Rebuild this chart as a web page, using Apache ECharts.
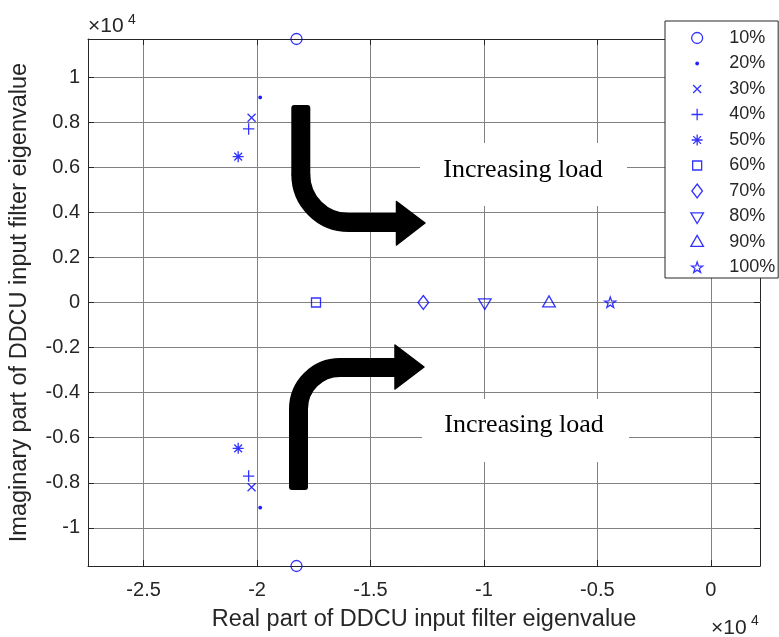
<!DOCTYPE html>
<html><head><meta charset="utf-8">
<script src="https://cdn.jsdelivr.net/npm/echarts@6/dist/echarts.min.js"></script>
<style>html,body{margin:0;padding:0;background:#fff}#c{width:779px;height:637px}</style>
</head><body><div id="c"></div>
<script>
// ---- data (eigenvalues, units of 1) ----
const loadLevels = ['10%','20%','30%','40%','50%','60%','70%','80%','90%','100%'];
const realParts  = [-18260, -19860, -20240, -20370, -20830, -17400, -12670, -9960, -7130, -4430];
const imagParts  = [11690, 9100, 8200, 7700, 6470, 0, 0, 0, 0, 0];
const xTicks = [-25000, -20000, -15000, -10000, -5000, 0];
const yTicks = [-10000, -8000, -6000, -4000, -2000, 0, 2000, 4000, 6000, 8000, 10000];
const xRange = [-27450, 2170];
const yRange = [-11690, 11690];

const FONT = "'Liberation Sans', Arial, Helvetica, sans-serif";
const SERIF = "'Liberation Serif', 'Times New Roman', serif";
const BLUE = '#0000ff';
const INK = '#262626';

// marker shapes in a 16x16 box (padding points keep the box square)
function starPath(cx, cy, R, r) {
  let d = '';
  for (let k = 0; k < 10; k++) {
    const a = -Math.PI / 2 + k * Math.PI / 5;
    const rr = k % 2 ? r : R;
    d += (k ? 'L' : 'M') + (cx + rr * Math.cos(a)).toFixed(2) + ',' + (cy + rr * Math.sin(a)).toFixed(2);
  }
  return d + 'Z';
}
const PAD = 'M0,0M16,16';
const SHAPES = [
  'M8,2.5A5.5,5.5,0,1,1,8,13.5A5.5,5.5,0,1,1,8,2.5Z',            // circle
  'M8,6.7A1.3,1.3,0,1,1,8,9.3A1.3,1.3,0,1,1,8,6.7Z',              // point
  'M4,4L12,12M12,4L4,12',                                          // x
  'M8,2.3L8,13.7M2.3,8L13.7,8',                                    // +
  'M8,2.5L8,13.5M2.5,8L13.5,8M4.1,4.1L11.9,11.9M11.9,4.1L4.1,11.9', // *
  'M3.5,3.5L12.5,3.5L12.5,12.5L3.5,12.5Z',                         // square
  'M8,1L13.3,8L8,15L2.7,8Z',                                       // diamond
  'M1.7,4.3L14.3,4.3L8,15Z',                                       // triangle down
  'M8,1.4L14.3,12.3L1.7,12.3Z',                                    // triangle up
  starPath(8, 8.3, 5.8, 2.3)                                       // pentagram
];

const fmt = v => String(Number((v / 10000).toFixed(2)));

function pointsOf(i) {
  const re = realParts[i], im = imagParts[i];
  return im > 0 ? [[re, im], [re, -im]] : [[re, 0]];
}

const series = loadLevels.map((name, i) => ({
  type: 'scatter', name,
  symbol: 'path://' + PAD + SHAPES[i], symbolSize: 16, clip: false,
  itemStyle: { color: i === 1 ? BLUE : 'rgba(0,0,0,0)', borderColor: BLUE, borderWidth: 1.3 },
  emphasis: { disabled: true },
  data: pointsOf(i), z: 5
}));

const axisCommon = {
  type: 'value',
  axisLine: { show: true, onZero: false, lineStyle: { color: INK, width: 1 } },
};

const chart = echarts.init(document.getElementById('c'), null, { renderer: 'canvas' });
chart.setOption({
  animation: false,
  backgroundColor: '#fff',
  grid: { left: 87, top: 39, width: 673, height: 531, containLabel: false },
  xAxis: [
    Object.assign({}, axisCommon, {
      min: xRange[0], max: xRange[1], position: 'bottom',
      axisTick: { show: true, inside: true, length: 6, customValues: xTicks, lineStyle: { color: INK } },
      axisLabel: { customValues: xTicks, formatter: fmt, fontSize: 20, color: INK, margin: 14, fontFamily: FONT },
      splitLine: { show: true, lineStyle: { color: '#828282', width: 1 } },
      name: 'Real part of DDCU input filter eigenvalue', nameLocation: 'middle', nameGap: 42,
      nameTextStyle: { fontSize: 23.5, color: INK, fontFamily: FONT }
    }),
    Object.assign({}, axisCommon, {
      min: xRange[0], max: xRange[1], position: 'top',
      axisTick: { show: true, inside: true, length: 6, customValues: xTicks, lineStyle: { color: INK } },
      axisLabel: { show: false }, splitLine: { show: false }
    })
  ],
  yAxis: [
    Object.assign({}, axisCommon, {
      min: yRange[0], max: yRange[1], position: 'left',
      axisTick: { show: true, inside: true, length: 6, customValues: yTicks, lineStyle: { color: INK } },
      axisLabel: { customValues: yTicks, formatter: fmt, fontSize: 20, color: INK, margin: 8, fontFamily: FONT },
      splitLine: { show: true, lineStyle: { color: '#828282', width: 1 } },
      name: 'Imaginary part of DDCU input filter eigenvalue', nameLocation: 'middle', nameGap: 56,
      nameTextStyle: { fontSize: 23.5, color: INK, fontFamily: FONT }
    }),
    Object.assign({}, axisCommon, {
      min: yRange[0], max: yRange[1], position: 'right',
      axisTick: { show: true, inside: true, length: 6, customValues: yTicks, lineStyle: { color: INK } },
      axisLabel: { show: false }, splitLine: { show: false }
    })
  ],
  legend: {
    orient: 'vertical', left: 665, top: 21,
    itemWidth: 54, itemHeight: 16, itemGap: 7.5,
    padding: [8, 3, 1.5, 23.5],
    borderColor: INK, borderWidth: 1, backgroundColor: '#fff',
    textStyle: { fontSize: 18, color: INK, fontFamily: FONT },
    itemStyle: { borderWidth: 1.3 },
    selectedMode: false,
    data: loadLevels
  },
  series,
  graphic: [
    // exponent labels
    { type: 'text', z: 100, style: { text: '\u00d710', x: 88, y: 26.4, font: '21px ' + FONT, fill: INK, verticalAlign: 'middle' } },
    { type: 'text', z: 100, style: { text: '4', x: 128, y: 20.5, font: '14px ' + FONT, fill: INK, verticalAlign: 'middle' } },
    { type: 'text', z: 100, style: { text: '\u00d710', x: 711, y: 628, font: '21px ' + FONT, fill: INK, verticalAlign: 'middle' } },
    { type: 'text', z: 100, style: { text: '4', x: 751, y: 621.5, font: '14px ' + FONT, fill: INK, verticalAlign: 'middle' } },
    // upper arrow
    { type: 'rect', z: 100, shape: { x: 291.3, y: 105, width: 19, height: 70.5, r: [3, 3, 0, 0] }, style: { fill: '#000' } },
    { type: 'arc', z: 100, shape: { cx: 348.8, cy: 174.5, r: 48, startAngle: Math.PI / 2, endAngle: Math.PI, clockwise: true }, style: { stroke: '#000', lineWidth: 19, fill: null } },
    { type: 'line', z: 100, shape: { x1: 348, y1: 222.5, x2: 399, y2: 222.5 }, style: { stroke: '#000', lineWidth: 19 } },
    { type: 'polygon', z: 100, shape: { points: [[396.5, 201.5], [425, 223], [396.5, 245]] }, style: { fill: '#000', stroke: '#000', lineWidth: 1.5, lineJoin: 'round' } },
    // lower arrow
    { type: 'rect', z: 100, shape: { x: 289, y: 408.5, width: 19, height: 81.5, r: [0, 0, 3, 3] }, style: { fill: '#000' } },
    { type: 'arc', z: 100, shape: { cx: 340, cy: 409, r: 41.5, startAngle: Math.PI, endAngle: Math.PI * 1.5, clockwise: true }, style: { stroke: '#000', lineWidth: 19, fill: null } },
    { type: 'line', z: 100, shape: { x1: 339.5, y1: 367.5, x2: 397, y2: 367.5 }, style: { stroke: '#000', lineWidth: 19 } },
    { type: 'polygon', z: 100, shape: { points: [[395, 345], [424, 367], [395, 389]] }, style: { fill: '#000', stroke: '#000', lineWidth: 1.5, lineJoin: 'round' } },
    // text boxes
    { type: 'rect', z: 99, shape: { x: 420, y: 143, width: 207, height: 63 }, style: { fill: '#fff' } },
    { type: 'text', z: 100, style: { text: 'Increasing load', x: 523, y: 170.2, font: '26px ' + SERIF, fill: '#000', align: 'center', verticalAlign: 'middle' } },
    { type: 'rect', z: 99, shape: { x: 422, y: 399, width: 207, height: 63 }, style: { fill: '#fff' } },
    { type: 'text', z: 100, style: { text: 'Increasing load', x: 524, y: 425.5, font: '26px ' + SERIF, fill: '#000', align: 'center', verticalAlign: 'middle' } }
  ]
});
</script>
</body></html>
